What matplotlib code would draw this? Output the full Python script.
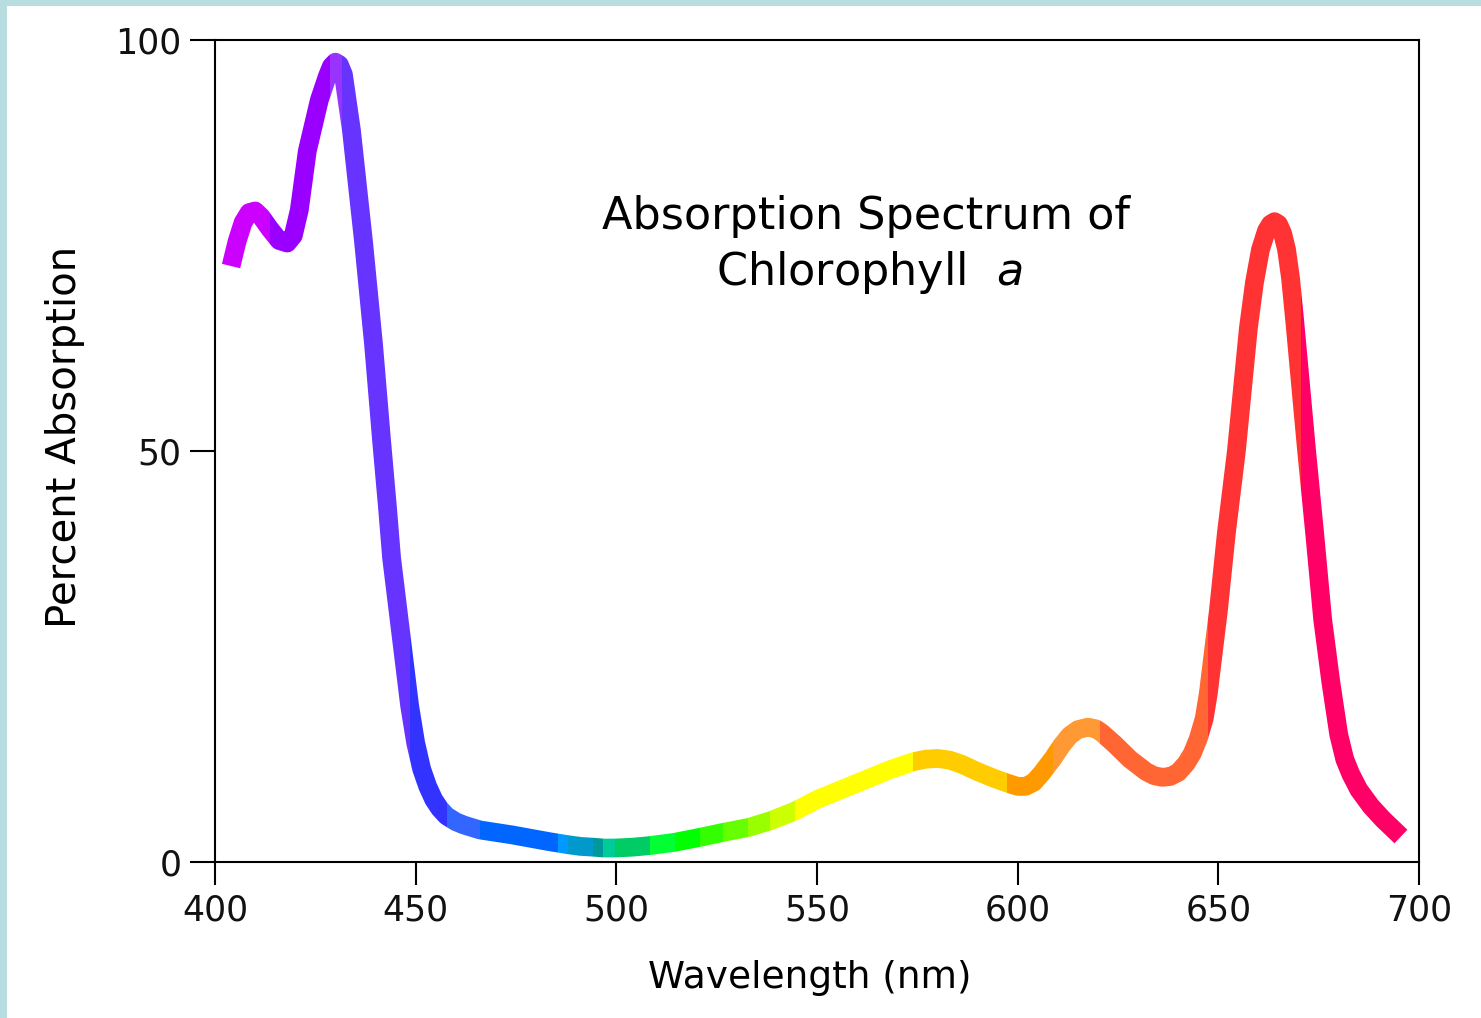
import numpy as np
import matplotlib
matplotlib.use("Agg")
import matplotlib.pyplot as plt
from matplotlib.patches import Rectangle

# ---- data ----
WAVELENGTH = [404, 405.5, 407, 408.5, 410, 411.5, 413.7, 416, 418, 419.5, 421, 423, 426,
              428, 429, 430, 431, 432, 434, 437, 439.5, 441.5, 443, 444, 445, 446.5, 448.5,
              450, 451.5, 453, 454.5, 456, 457.7, 460, 462, 466, 474, 483, 485.5, 488,
              491, 494.3, 496.8, 499.7, 504, 508.4, 514.6, 520.8, 526.6, 532.9, 538.3,
              544.5, 550, 556, 562, 568, 574, 577, 580, 583, 586, 590, 594, 597.4, 600,
              602, 604, 606, 608.8, 611, 613, 615, 617.5, 619.5, 621, 624, 628, 632, 634,
              636, 638, 640, 642, 643.5, 645, 646.5, 647.5, 650, 652, 654.5, 657.5, 659,
              660.5, 662, 663, 664, 665, 666, 667, 668, 669, 670.5, 672, 674, 676, 678,
              680, 681.5, 683, 685, 688, 691, 695.5]
ABSORPTION = [72.5, 75.5, 77.8, 79.0, 79.2, 78.5, 77.0, 75.6, 75.3, 76.2, 79.3, 86.5, 92.7,
              95.6, 96.8, 97.3, 97.0, 95.8, 89.0, 75.5, 63.0, 51.3, 43.0, 37.0, 33.0, 27.0, 19.0,
              14.5, 11.3, 9.2, 7.6, 6.5, 5.6, 4.9, 4.5, 3.9, 3.3, 2.5, 2.3, 2.1,
              1.9, 1.8, 1.7, 1.7, 1.8, 2.0, 2.4, 3.0, 3.6, 4.2, 5.0,
              6.2, 7.6, 8.8, 10.0, 11.2, 12.2, 12.5, 12.6, 12.4, 11.9, 11.0, 10.2, 9.6, 9.2,
              9.2, 9.7, 10.8, 12.6, 14.2, 15.4, 16.1, 16.4, 16.2, 15.7, 14.4, 12.5, 11.0, 10.5,
              10.3, 10.4, 10.9, 12.0, 13.2, 15.0, 17.5, 20.5, 30.5, 40.0, 50.0, 65.0, 70.5,
              74.5, 76.8, 77.6, 77.9, 77.6, 76.5, 74.5, 71.0, 66.0, 58.0, 50.0, 40.0, 29.5, 22.0,
              15.5, 12.5, 10.7, 8.8, 6.8, 5.2, 3.1]

# colour bands along the spectrum (start wavelength of each band)
BAND_START = [404, 413.7, 428.7, 431.7, 448.5, 457.7, 466, 485.5, 488, 494.3, 496.8,
              499.7, 508.4, 514.6, 520.8, 526.6, 532.9, 538.3, 544.5, 574, 597.4,
              608.8, 620.5, 647.5, 670.5]
BAND_COLORS = ['#cc00ff', '#9900ff', '#9933ff', '#6633ff', '#3333ff', '#3366ff', '#0066ff',
               '#0099ff', '#0099cc', '#009999', '#00cc99', '#00cc66', '#00ff33', '#00ff00',
               '#33ff00', '#66ff00', '#99ff00', '#ccff00', '#ffff00', '#ffcc00', '#ff9900',
               '#ff9933', '#ff6633', '#ff3333', '#ff0066']

X_TICKS = [400, 450, 500, 550, 600, 650, 700]
Y_TICKS = [0, 50, 100]

W, H = 1481, 1018
fig = plt.figure(figsize=(W / 100, H / 100), dpi=100)
fig.patch.set_facecolor('white')

# light blue frame on top and left
border = '#b8dde1'
fig.patches.append(Rectangle((0, 1 - 6 / H), 1, 6 / H, transform=fig.transFigure,
                             facecolor=border, edgecolor='none', zorder=0))
fig.patches.append(Rectangle((0, 0), 7 / W, 1, transform=fig.transFigure,
                             facecolor=border, edgecolor='none', zorder=0))

ax = fig.add_axes([215 / W, 1 - 862 / H, (1419 - 215) / W, (862 - 40) / H])
ax.set_xlim(400, 700)
ax.set_ylim(0, 100)

wl = np.array(WAVELENGTH)
ab = np.array(ABSORPTION)
nb = len(BAND_START)
EXT = 7.0  # draw a little beyond each band, then clip it at the band edges
for i, (start, color) in enumerate(zip(BAND_START, BAND_COLORS)):
    end = BAND_START[i + 1] if i + 1 < nb else wl.max()
    lo = max(0, np.searchsorted(wl, start - EXT, side='right') - 1)
    hi = min(len(wl), np.searchsorted(wl, end + EXT, side='left') + 1)
    line, = ax.plot(wl[lo:hi], ab[lo:hi], color=color, lw=13.5, solid_capstyle='butt',
                    solid_joinstyle='round', zorder=3)
    x0 = start if i > 0 else 300
    x1 = end if i < nb - 1 else 800
    clip = Rectangle((x0, -100), x1 - x0, 300, transform=ax.transData)
    line.set_clip_path(clip)

for s in ax.spines.values():
    s.set_linewidth(1.5)
    s.set_color('black')

ax.set_xticks(X_TICKS)
ax.set_yticks(Y_TICKS)
ax.set_xticklabels([str(v) for v in X_TICKS])
ax.set_yticklabels([str(v) for v in Y_TICKS])
ax.tick_params(axis='x', direction='out', length=16.5, width=1.5, labelsize=25,
               pad=6, colors='black', labelcolor='#111111')
ax.tick_params(axis='y', direction='out', length=18, width=1.5, labelsize=25,
               pad=6, colors='black', labelcolor='#111111')

fig.text(810 / W, 1 - 978 / H, 'Wavelength (nm)', ha='center', va='center',
         fontsize=27, color='black')
fig.text(65 / W, 1 - 437 / H, 'Percent Absorption', ha='center', va='center',
         rotation=90, fontsize=29, color='black')

fig.text(866 / W, 1 - 217 / H, 'Absorption Spectrum of', ha='center', va='center',
         fontsize=32, color='black')
fig.text(869 / W, 1 - 272 / H, r'Chlorophyll  $\it{a}$', ha='center', va='center',
         fontsize=32, color='black')

fig.savefig('out.png', dpi=100, facecolor='white')
